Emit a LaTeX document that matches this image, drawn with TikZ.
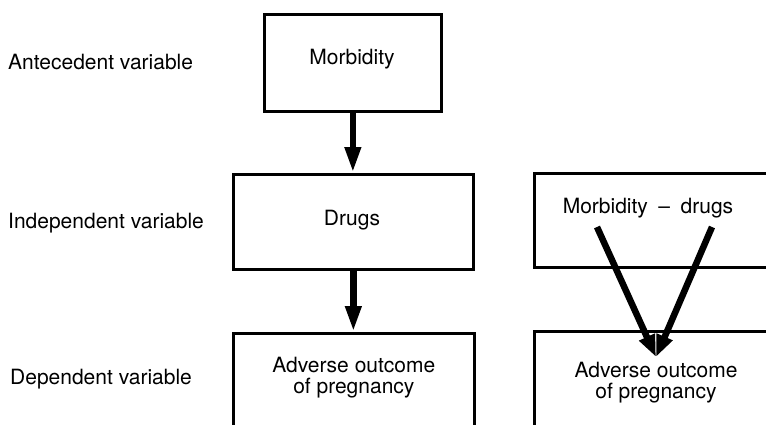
\documentclass[tikz,border=0pt]{standalone}
\usepackage{fontspec}
\setmainfont{TeX Gyre Heros}
\usetikzlibrary{arrows.meta, positioning}

\begin{document}
\begin{tikzpicture}[x=1pt, y=-1pt,
    %Style
    box/.style={draw, line width=2.7pt, inner sep=0pt},
    label text/.style={anchor=west, inner sep=0pt, font=\fontsize{21}{21}\selectfont},
    box text/.style={align=center, inner sep=0pt, font=\fontsize{21}{21}\selectfont},
    causal arrow/.style={line width=6.5pt, -{Triangle[length=26pt,width=15pt]}},
    joint arrow/.style={line width=6.5pt, -{Triangle[length=22pt,width=16pt]}}]
    \useasboundingbox (0,0) rectangle (766,424);
    \clip (0,0) rectangle (766,424);

    %Levels
    \node[label text] (antecedent) at (8,62) {Antecedent variable};
    \node[label text] (independent) at (8,223) {Independent variable};
    \node[label text] (dependent) at (10,379) {Dependent variable};

    %Left chain
    \node[box, anchor=north west, minimum width=177pt, minimum height=97pt] (morbidity) at (263,13) {};
    \node[box text] (morbidity text) at (352,59) {Morbidity};
    \node[box, anchor=north west, minimum width=240pt, minimum height=95pt] (drugs) at (232,173) {};
    \node[box text] (drugs text) at (352,220) {Drugs};
    \node[box, anchor=north west, minimum width=241pt, minimum height=140pt] (adverse) at (232,332) {};
    \node[box text, below=25pt of adverse.north] (adverse text) {Adverse outcome\\of pregnancy};

    \draw[causal arrow] (morbidity.south) -- (morbidity.south |- drugs.north);
    \draw[causal arrow] (drugs.south) -- (drugs.south |- adverse.north);

    %Right pair
    \node[box, anchor=north west, minimum width=300pt, minimum height=94pt] (joint) at (533,172) {};
    \node[box text] (joint text) at (648,208) {Morbidity\enspace--\enspace drugs};
    \node[box, anchor=north west, minimum width=300pt, minimum height=140pt] (joint adverse) at (533,330) {};
    \node[box text, anchor=north] (joint adverse text) at (656,362) {Adverse outcome\\of pregnancy};

    \coordinate (morbidity start) at (597,227);
    \coordinate (drugs start) at (712,227);
    \coordinate[above=5pt of joint adverse text.north] (joint tip);
    \draw[joint arrow] (morbidity start) -- (joint tip);
    \draw[joint arrow] (drugs start) -- (joint tip);
\end{tikzpicture}
\end{document}
